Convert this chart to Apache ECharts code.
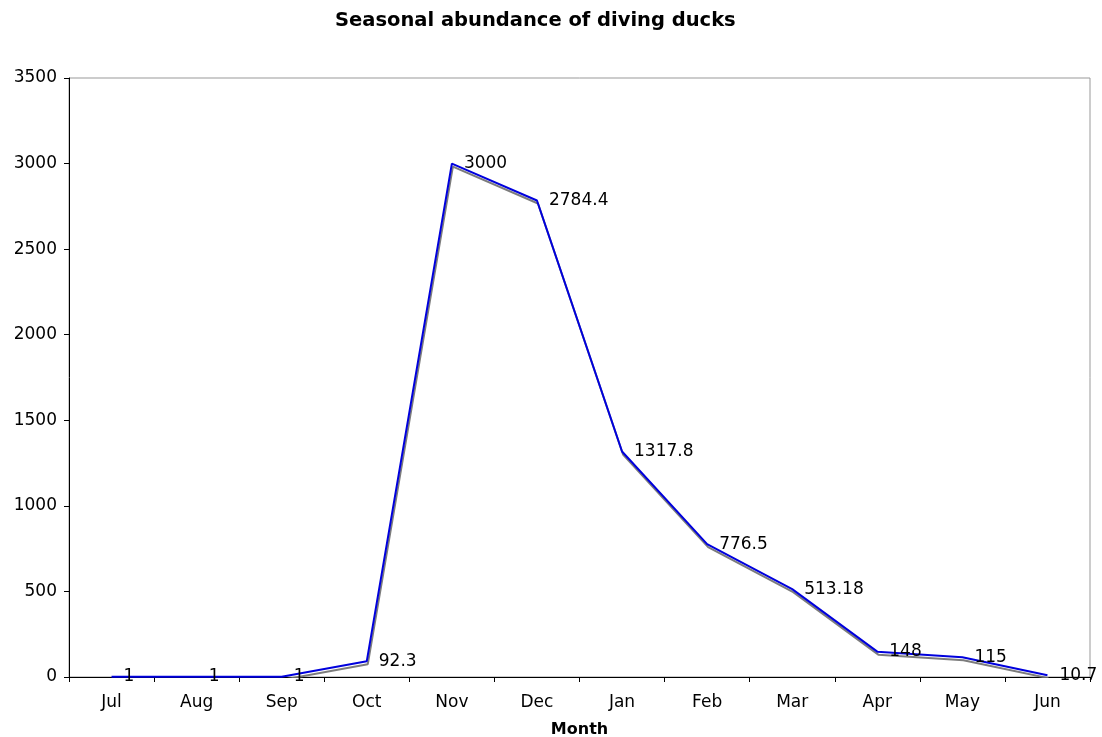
<!DOCTYPE html>
<html>
<head>
<meta charset="utf-8">
<style>
  html, body { margin: 0; padding: 0; background: #fff; }
  #chart { width: 1102px; height: 737px; }
</style>
<script src="https://cdn.jsdelivr.net/npm/echarts@6/dist/echarts.min.js"></script>
</head>
<body>
<div id="chart"></div>
<script>
// Monthly counts of diving ducks, July through June
const months = ['Jul', 'Aug', 'Sep', 'Oct', 'Nov', 'Dec', 'Jan', 'Feb', 'Mar', 'Apr', 'May', 'Jun'];
const abundance = [1, 1, 1, 92.3, 3000, 2784.4, 1317.8, 776.5, 513.18, 148, 115, 10.7];
const yTicks = { min: 0, max: 3500, interval: 500 };

const FONT = 'DejaVu Sans, Verdana, sans-serif';
const chart = echarts.init(document.getElementById('chart'));

chart.setOption({
  animation: false,
  backgroundColor: '#ffffff',
  title: {
    text: 'Seasonal abundance of diving ducks',
    left: 330,
    top: 6,
    textStyle: { fontFamily: FONT, fontSize: 19.5, fontWeight: 'bold', color: '#000' }
  },
  grid: {
    left: 69, right: 12, top: 78, bottom: 60,
    containLabel: false,
    outerBoundsMode: 'none',
    show: true, borderColor: '#999999', borderWidth: 1, backgroundColor: 'transparent'
  },
  xAxis: {
    type: 'category',
    data: months,
    boundaryGap: true,
    name: 'Month',
    nameLocation: 'middle',
    nameGap: 45,
    nameTextStyle: { fontFamily: FONT, fontSize: 16, fontWeight: 'bold', color: '#000' },
    axisLine: { lineStyle: { color: '#000', width: 1 } },
    axisTick: { show: true, alignWithLabel: false, length: 5, inside: false, lineStyle: { color: '#000' } },
    axisLabel: { fontFamily: FONT, fontSize: 17, color: '#000', margin: 17 },
    splitLine: { show: false }
  },
  yAxis: {
    type: 'value',
    min: yTicks.min,
    max: yTicks.max,
    interval: yTicks.interval,
    axisLine: { show: true, lineStyle: { color: '#000', width: 1 } },
    axisTick: { show: true, length: 5, lineStyle: { color: '#000' } },
    axisLabel: {
      fontFamily: FONT, fontSize: 17, color: '#000', margin: 12,
      formatter: (v) => String(v)
    },
    splitLine: { show: false }
  },
  series: [{
    type: 'line',
    data: abundance,
    symbol: 'circle',
    symbolSize: 2,
    showSymbol: true,
    itemStyle: { color: 'rgba(0,0,0,0)', borderWidth: 0 },
    lineStyle: {
      color: '#0000dd', width: 2,
      shadowColor: 'rgba(110,110,110,0.9)', shadowOffsetX: 1, shadowOffsetY: 3, shadowBlur: 0
    },
    label: {
      show: true,
      position: 'right',
      distance: 11,
      fontFamily: FONT,
      fontSize: 17,
      color: '#000',
      opacity: 1,
      formatter: (p) => String(p.value)
    },
    labelLayout: { hideOverlap: false },
    z: 3
  }]
});
</script>
</body>
</html>
